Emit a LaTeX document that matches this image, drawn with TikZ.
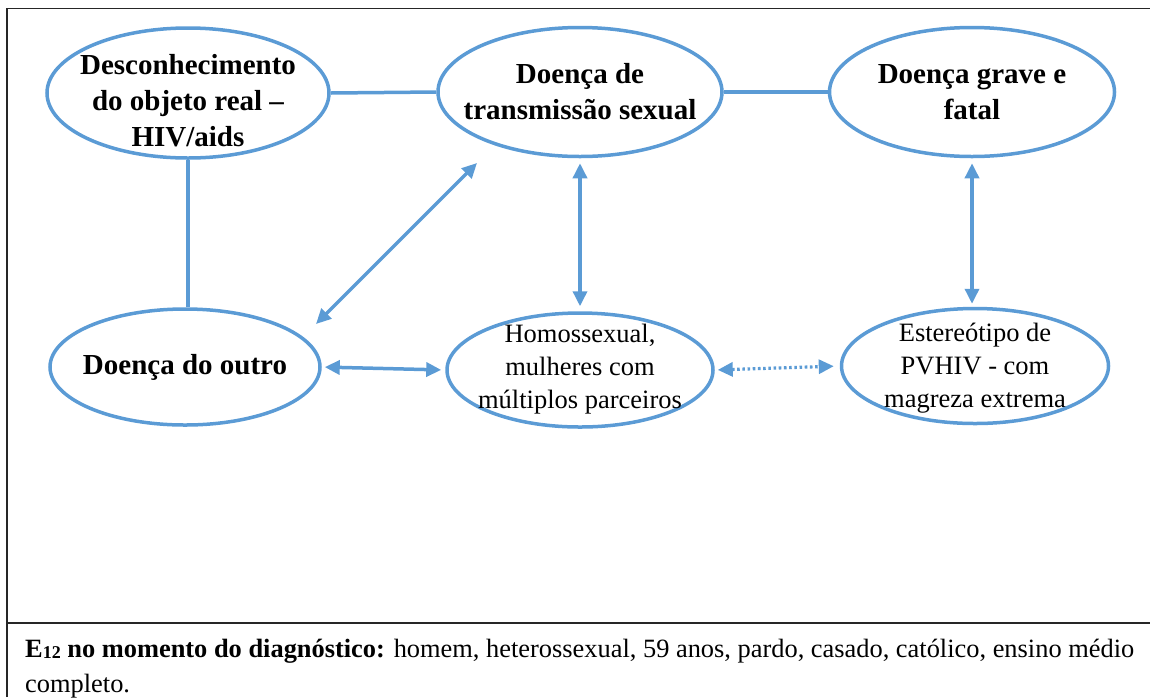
\documentclass[tikz,border=0pt]{standalone}
\usepackage{fontspec}
\setmainfont{Liberation Serif}
\usetikzlibrary{shapes.geometric,arrows.meta,calc}
\definecolor{linkblue}{HTML}{5B9BD5}
\begin{document}
\begin{tikzpicture}[x=1pt,y=-1pt,
  bubble/.style={ellipse, draw=linkblue, line width=3.5pt, inner sep=0pt},
  boldtxt/.style={font=\fontsize{29}{36}\selectfont\bfseries, align=center, inner sep=0pt},
  plaintxt/.style={font=\fontsize{26.5}{33}\selectfont, align=center, inner sep=0pt},
  link/.style={draw=linkblue, line width=3.5pt},
  both/.style={link, {Triangle[length=15pt,width=14pt]}-{Triangle[length=15pt,width=14pt]}},
  dotboth/.style={draw=linkblue, line width=3.2pt, dash pattern=on 2.6pt off 2.6pt,
    {Triangle[length=15pt,width=14pt]}-{Triangle[length=15pt,width=14pt]}},
  frame/.style={draw=black!85, line width=1.8pt}]
\useasboundingbox (0,0) rectangle (1150,697);

% frame and divider of the table cell
\draw[frame] (7,697) -- (7,8.5) -- (1150,8.5);
\draw[frame] (7,623) -- (1150,623);

% ellipses
\node[bubble, minimum width=282pt, minimum height=130pt] (e1) at (188,93) {};
\node[bubble, minimum width=284pt, minimum height=129pt] (e2) at (580,92) {};
\node[bubble, minimum width=285pt, minimum height=129pt] (e3) at (972,92) {};
\node[bubble, minimum width=270pt, minimum height=116pt] (e4) at (185,367) {};
\node[bubble, minimum width=266pt, minimum height=114pt] (e5) at (580,370) {};
\node[bubble, minimum width=267pt, minimum height=115pt] (e6) at (975,366) {};

% texts inside the ellipses
\node[boldtxt] (t1) at ($(e1)+(0,8)$) {Desconhecimento\\do objeto real –\\HIV/aids};
\node[boldtxt] (t2) at (e2) {Doença de\\transmissão sexual};
\node[boldtxt] (t3) at (e3) {Doença grave e\\fatal};
\node[boldtxt] (t4) at (e4) {Doença do outro};
\node[plaintxt] (t5) at ($(e5)+(0,-1)$) {Homossexual,\\mulheres com\\múltiplos parceiros};
\node[plaintxt] (t6) at ($(e6)+(0,2)$) {Estereótipo de\\PVHIV - com\\magreza extrema};

% plain links
\draw[link] (e1.east) -- (e2.west);
\draw[link] (e2.east) -- (e3.west);
\draw[link] (e4.north -| e1.south) -- (e1.south);

% two-way arrows
\draw[both] ($(e4.center)+(131,-43)$) -- ($(e2.center)+(-103,71)$);
\draw[both, shorten <=5pt, shorten >=5pt] (e2.south) -- (e5.north);
\draw[both, shorten <=5pt, shorten >=3pt] (e3.south) -- (e3.south |- e6.north);
\draw[both, shorten <=3pt, shorten >=4pt] (e4.east) -- (e5.west);
\draw[dotboth, shorten <=3pt, shorten >=6pt] (e5.east) -- (e6.west);

% caption in the lower cell
\node[anchor=base west, align=left, inner sep=0pt, font=\fontsize{26.4}{35}\selectfont] (cap) at (25,692)
  {\textbf{E{\fontsize{18}{18}\selectfont\raisebox{-1pt}{12}} no momento do diagnóstico:} homem, heterossexual, 59 anos, pardo, casado, católico, ensino médio\\completo.};
\end{tikzpicture}
\end{document}
